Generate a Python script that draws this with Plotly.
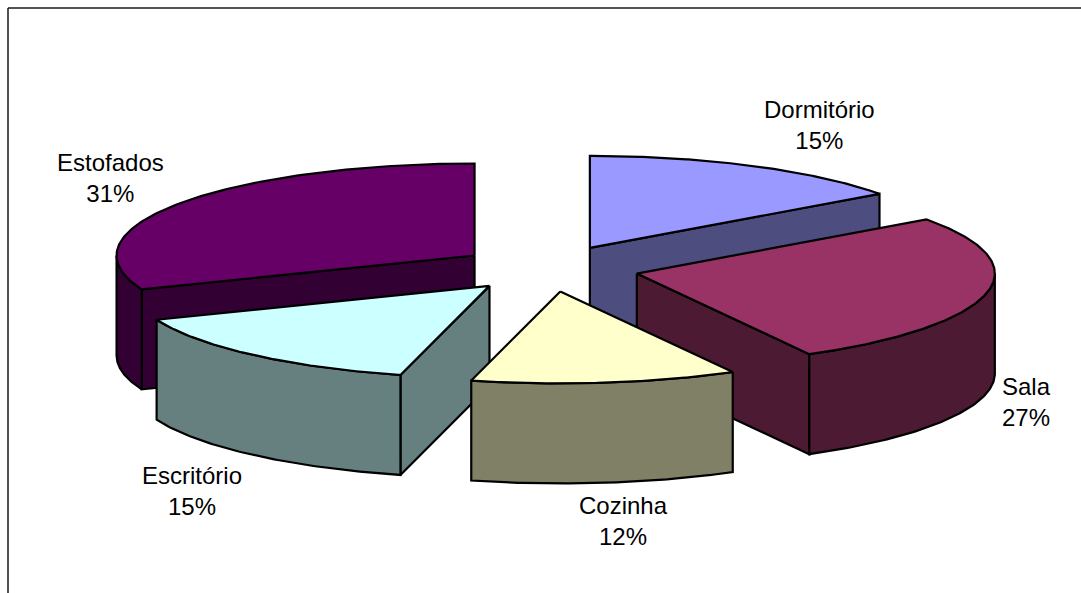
import numpy as np
import plotly.graph_objects as go

# Sales share per product line, clockwise from twelve o'clock
categories = ["Dormitório", "Sala", "Cozinha", "Escritório", "Estofados"]
shares = [15, 27, 12, 15, 31]
top_colors = ["#9999FF", "#993366", "#FFFFCC", "#CCFFFF", "#660066"]
side_colors = ["#4D4D80", "#4D1A33", "#808066", "#668080", "#330033"]

# Slices painted back to front so nearer ones overlap farther ones
paint_order = ["Estofados", "Dormitório", "Sala", "Escritório", "Cozinha"]

# Label anchors in the pixel-based plot coordinates
label_anchor = {
    "Dormitório": (819, 125),
    "Sala": (1026, 402),
    "Cozinha": (623, 521),
    "Escritório": (192, 491),
    "Estofados": (110, 178),
}

WIDTH, HEIGHT = 1081, 593
CX, CY = 549.0, 268.5   # centre of the unexploded pie top
RX, RY = 358.0, 92.0    # semi-axes of the projected ellipse
DEPTH = 100.0           # extruded height of the pie
EXPLODE = 0.2514        # radial offset as a fraction of the radius
EDGE = dict(color="#000000", width=2.2)


def rim(apex, deg):
    """Screen position of a rim point; angles run clockwise from the top."""
    t = np.radians(deg)
    return apex[0] + RX * np.sin(t), apex[1] - RY * np.cos(t)


def polygon(xs, ys, color):
    return go.Scatter(
        x=list(xs), y=list(ys), mode="lines", fill="toself", fillcolor=color,
        line=dict(color=EDGE["color"], width=EDGE["width"]),
        hoverinfo="skip", showlegend=False,
    )


def slice_traces(start, end, top, side):
    mid = np.radians((start + end) / 2)
    apex = (CX + EXPLODE * RX * np.sin(mid), CY - EXPLODE * RY * np.cos(mid))
    traces = []

    # Radial cut faces turned toward the viewer
    for deg, visible in ((start, np.sin(np.radians(start)) < -1e-9),
                         (end, np.sin(np.radians(end)) > 1e-9)):
        if visible:
            rx, ry = rim(apex, deg)
            traces.append(polygon(
                [apex[0], rx, rx, apex[0], apex[0]],
                [apex[1], ry, ry + DEPTH, apex[1] + DEPTH, apex[1]],
                side,
            ))

    # Outer curved wall: only the front half of the rim shows
    lo, hi = max(start, 90.0), min(end, 270.0)
    if hi > lo:
        degs = np.linspace(lo, hi, 80)
        ax, ay = rim(apex, degs)
        traces.append(polygon(
            np.concatenate([ax, ax[::-1], ax[:1]]),
            np.concatenate([ay, ay[::-1] + DEPTH, ay[:1]]),
            side,
        ))

    # Top face
    degs = np.linspace(start, end, 160)
    ax, ay = rim(apex, degs)
    traces.append(polygon(
        np.concatenate([[apex[0]], ax, [apex[0]]]),
        np.concatenate([[apex[1]], ay, [apex[1]]]),
        top,
    ))
    return traces


total = sum(shares)
bounds = {}
angle = 0.0
for name, share in zip(categories, shares):
    bounds[name] = (angle, angle + 360.0 * share / total)
    angle += 360.0 * share / total

fig = go.Figure()
for name in paint_order:
    i = categories.index(name)
    for trace in slice_traces(*bounds[name], top_colors[i], side_colors[i]):
        fig.add_trace(trace)

for name, share in zip(categories, shares):
    x, y = label_anchor[name]
    fig.add_annotation(
        x=x, y=y, text=f"{name}<br>{share}%", showarrow=False, align="center",
        xanchor="center", yanchor="middle",
        font=dict(family="Liberation Sans, Arial, sans-serif", size=24, color="#000000"),
    )

# Chart frame: left and top edges
fig.add_shape(type="line", x0=8, x1=8, y0=8, y1=HEIGHT, line=dict(color="#1a1a1a", width=1.5))
fig.add_shape(type="line", x0=8, x1=WIDTH, y0=8, y1=8, line=dict(color="#1a1a1a", width=1.5))

fig.update_layout(
    width=WIDTH, height=HEIGHT, autosize=False,
    margin=dict(l=0, r=0, t=0, b=0),
    paper_bgcolor="#FFFFFF", plot_bgcolor="#FFFFFF",
    xaxis=dict(range=[0, WIDTH], visible=False, fixedrange=True),
    yaxis=dict(range=[HEIGHT, 0], visible=False, fixedrange=True),
)

fig.write_html("out.html", config={"displayModeBar": False})
